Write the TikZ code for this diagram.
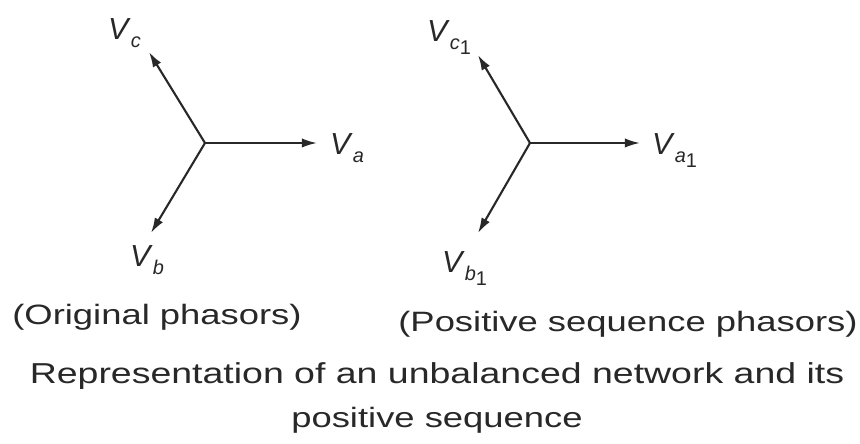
\documentclass[tikz,border=0pt]{standalone}
\usepackage{fontspec}
\setmainfont{Liberation Sans}
\newfontfamily\capfont[FakeStretch=1.3]{Liberation Sans}
\usetikzlibrary{
  arrows.meta,
  positioning
}
\definecolor{inkgray}{RGB}{40,40,40}
\newcommand{\phlabel}[2]{%
  \textit{V}\raisebox{-6.5pt}{\fontsize{17}{17}\selectfont\textit{#1}\raisebox{-4pt}{#2}}%
}
\tikzset{
  phasor/.style={-{Latex[length=13pt,width=8pt]},line width=1.8pt,draw=inkgray},
  vlabel/.style={anchor=base west,inner sep=0pt,text=inkgray,font=\fontsize{26}{26}\selectfont},
  captext/.style={anchor=base,inner sep=0pt,text=inkgray,font=\capfont\fontsize{23.9}{28}\selectfont}
}

\begin{document}
\begin{tikzpicture}[x=0.03cm,y=0.03cm]
  \useasboundingbox (0,0) rectangle (860,443);
  % original phasors
  \coordinate (o1) at (205,300);
  \coordinate (ta) at (317,300);
  \coordinate (tb) at (151,210);
  \coordinate (tc) at (149,391);
  \draw[phasor] (o1) -- (ta);
  \draw[phasor] (o1) -- (tb);
  \draw[phasor] (o1) -- (tc);
  \node[vlabel] (va) at (330,288) {\phlabel{a}{}};
  \node[vlabel] (vb) at (130,176) {\phlabel{b}{}};
  \node[vlabel] (vc) at (108,403) {\phlabel{c}{}};
  % positive sequence phasors
  \coordinate (o2) at (530,300);
  \coordinate (ta1) at (640,300);
  \coordinate (tb1) at (478,210);
  \coordinate (tc1) at (478,388);
  \draw[phasor] (o2) -- (ta1);
  \draw[phasor] (o2) -- (tb1);
  \draw[phasor] (o2) -- (tc1);
  \node[vlabel] (va1) at (652,288) {\phlabel{a}{1}};
  \node[vlabel] (vb1) at (442,170) {\phlabel{b}{1}};
  \node[vlabel] (vc1) at (427,401) {\phlabel{c}{1}};
  % captions
  \node[captext] (orig) at (157,118) {(Original phasors)};
  \node[captext] (posseq) at (628,111) {(Positive sequence phasors)};
  \node[captext,font=\capfont\fontsize{24.6}{28}\selectfont] (cap1) at (437,59) {Representation of an unbalanced network and its};
  \node[captext] (cap2) at (437,16) {positive sequence};
\end{tikzpicture}
\end{document}
